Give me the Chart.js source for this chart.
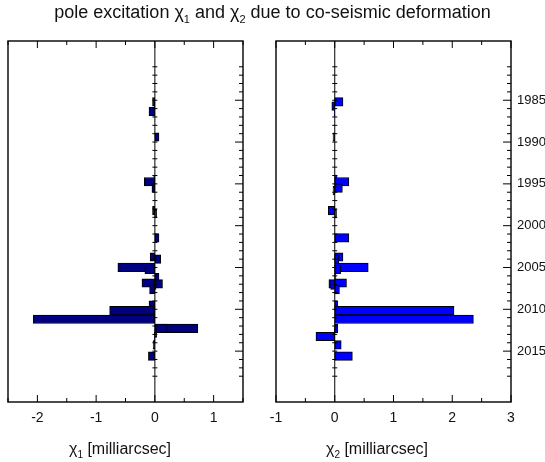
<!DOCTYPE html>
<html>
<head>
<meta charset="utf-8">
<script src="https://cdn.jsdelivr.net/npm/chart.js@4/dist/chart.umd.min.js"></script>
<style>
body { margin:0; background:#fff; font-family:"Liberation Sans", Arial, sans-serif; }
#lienzo { position:relative; width:545px; height:462px; overflow:hidden; }
canvas { position:absolute; top:0; }
#titulo { position:absolute; top:2px; left:0; width:545px; text-align:center; font-size:18px; color:#111; }
#titulo sub { font-size:11px; vertical-align:-5px; }
.etiqueta { position:absolute; top:440px; font-size:16px; white-space:nowrap; transform:translateX(-50%); color:#111; }
sub { font-size:10px; vertical-align:-4px; line-height:0; }
</style>
</head>
<body>
<div id="lienzo">
 <canvas id="canvasChi1" width="260" height="462" style="left:0"></canvas>
 <canvas id="canvasChi2" width="285" height="462" style="left:260px"></canvas>
 <div id="titulo">pole excitation χ<sub>1</sub> and χ<sub>2</sub> due to co-seismic deformation</div>
 <div class="etiqueta" style="left:120px">χ<sub>1</sub> [milliarcsec]</div>
 <div class="etiqueta" style="left:377px">χ<sub>2</sub> [milliarcsec]</div>
</div>
<script>
//Fechas de los sismos (año decimal) y excitacion en cada componente
const anios = [1985.2, 1985.7, 1986.35, 1989.4, 1994.45, 1994.75, 1995.5, 1995.8, 1998.2, 1998.55,
               2001.45, 2003.75, 2004.0, 2004.98, 2005.24, 2006.2, 2006.85, 2006.95, 2007.1, 2007.65,
               2009.5, 2010.16, 2011.19, 2012.28, 2012.28, 2012.85, 2013.25, 2014.25, 2015.6];
const chi1 = [-0.04, -0.01, -0.1, 0.07, -0.02, -0.18, -0.05, 0.0, -0.04, 0.03,
              0.07, -0.08, 0.1, -0.63, -0.17, 0.07, -0.22, 0.13, 0.02, -0.09,
              -0.1, -0.77, -2.07, 0.73, 0.21, 0.03, -0.01, -0.03, -0.11];
const chi2 = [0.14, -0.05, -0.01, -0.03, 0.04, 0.24, 0.13, -0.03, -0.11, 0.03,
              0.24, 0.14, 0.07, 0.57, 0.1, 0.02, 0.2, -0.1, -0.07, 0.08,
              0.05, 2.03, 2.36, 0.05, 0.02, -0.01, -0.32, 0.11, 0.3];

//Rangos y etiquetas de los ejes
const ticksAnios = [1985, 1990, 1995, 2000, 2005, 2010, 2015];
const ticksChi1 = [-2, -1, 0, 1];
const ticksChi2 = [-1, 0, 1, 2, 3];
const rangoAnios = [1981, 2018];
const rangoChi1 = [-2.5, 1.5];
const rangoChi2 = [-1, 3];

//Plugin que dibuja el marco, las marcas hacia adentro y la linea del cero
const marcasEjes = {
  id: 'marcasEjes',
  afterDatasetsDraw(chart) {
    const ctx = chart.ctx;
    const a = chart.chartArea;
    const x = chart.scales.x;
    const y = chart.scales.y;
    const x0 = x.getPixelForValue(0);
    ctx.save();
    ctx.strokeStyle = '#000';
    ctx.lineWidth = 1;
    ctx.beginPath();
    //marcas arriba y abajo cada 0.5
    for (let v = x.min; v <= x.max + 1e-9; v += 0.5) {
      const px = x.getPixelForValue(v);
      const largo = Number.isInteger(v) ? 7 : 4;
      ctx.moveTo(px, a.top); ctx.lineTo(px, a.top + largo);
      ctx.moveTo(px, a.bottom); ctx.lineTo(px, a.bottom - largo);
    }
    //marcas de cada año a la derecha y sobre el cero
    for (let v = Math.ceil(y.min); v <= y.max; v++) {
      const py = y.getPixelForValue(v);
      const largo = v % 5 === 0 ? 8 : 4;
      ctx.moveTo(a.right, py); ctx.lineTo(a.right - largo, py);
      ctx.moveTo(x0 - 2.5, py); ctx.lineTo(x0 + 2.5, py);
    }
    ctx.moveTo(x0, a.top); ctx.lineTo(x0, a.bottom);
    ctx.stroke();
    //marco
    ctx.lineWidth = 1.4;
    ctx.strokeRect(a.left, a.top, a.right - a.left, a.bottom - a.top);
    ctx.restore();
  }
};

//Funcion que genera cada panel
function generarPanel(idCanvas, valores, rango, ticksX, color, conAnios) {
  const canvas = document.getElementById(idCanvas);
  let puntos = [];
  for (let i = 0; i < anios.length; i++) {
    puntos.push({ x: valores[i], y: anios[i] });
  }
  return new Chart(canvas, {
    type: 'bar',
    data: {
      datasets: [{
        data: puntos,
        backgroundColor: color,
        borderColor: '#000',
        borderWidth: 1,
        borderSkipped: false,
        barThickness: 8.5
      }]
    },
    options: {
      indexAxis: 'y',
      responsive: false,
      animation: false,
      layout: { padding: conAnios ? { left: 16, right: 0, top: 41, bottom: 0 } : { left: 8, right: 17, top: 41, bottom: 0 } },
      plugins: { legend: { display: false }, tooltip: { enabled: false } },
      scales: {
        x: {
          type: 'linear', min: rango[0], max: rango[1],
          grid: { display: false, drawTicks: false }, border: { display: false },
          ticks: { padding: 8, color: '#111', font: { family: 'Liberation Sans', size: 14 }, callback: v => String(v) },
          afterBuildTicks: s => { s.ticks = ticksX.map(v => ({ value: v })); },
          afterFit: s => { s.height = 60; }
        },
        y: {
          type: 'linear', reverse: true, min: rangoAnios[0], max: rangoAnios[1],
          position: 'right', display: conAnios,
          grid: { display: false, drawTicks: false }, border: { display: false },
          ticks: { padding: 6, color: '#111', font: { family: 'Liberation Sans', size: 13 }, callback: v => String(v) },
          afterBuildTicks: s => { s.ticks = ticksAnios.map(v => ({ value: v })); },
          afterFit: s => { s.width = conAnios ? 34 : 0; }
        }
      }
    },
    plugins: [marcasEjes]
  });
}

generarPanel('canvasChi1', chi1, rangoChi1, ticksChi1, '#000080', false);
generarPanel('canvasChi2', chi2, rangoChi2, ticksChi2, '#0000ff', true);
</script>
</body>
</html>
